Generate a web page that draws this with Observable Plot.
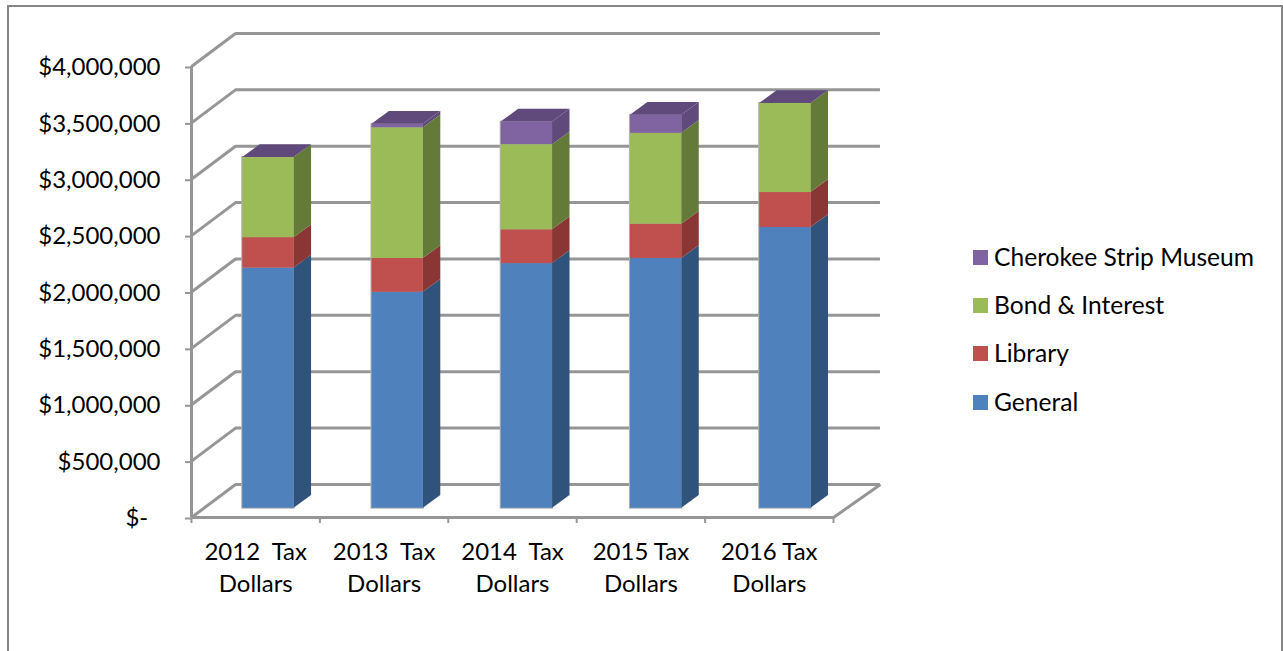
<!DOCTYPE html>
<html><head><meta charset="utf-8">
<script src="https://cdn.jsdelivr.net/npm/d3@7"></script>
<script src="https://cdn.jsdelivr.net/npm/@observablehq/plot@0.6"></script>
<style>
html,body{margin:0;padding:0;background:#fff;overflow:hidden;width:1283px;height:651px}
#frame{position:absolute;left:7px;top:5px;width:1276px;height:660px;border:2px solid #868686;box-sizing:border-box}
#chart{position:absolute;left:0;top:0}
#legend{position:absolute;left:973px;top:0;font:24.6px Lato,sans-serif;color:#000}
.row{position:absolute;left:0;white-space:nowrap;height:20px;line-height:20px}
.sw{position:absolute;left:0;top:3px;width:15px;height:15px}
.lb{position:absolute;left:21px;top:0}
</style></head><body>
<div id="frame"></div><div id="chart"></div><div id="legend"></div>
<script>
const categories = ["2012  Tax\nDollars","2013  Tax\nDollars","2014  Tax\nDollars","2015 Tax\nDollars","2016 Tax\nDollars"];
const seriesNames = ["General","Library","Bond & Interest","Cherokee Strip Museum"];
const general = [2130000,1915000,2170000,2215000,2490000];
const library = [270000,300000,300000,305000,310000];
const bond    = [710000,1160000,755000,805000,790000];
const museum  = [0,30000,200000,160000,0];
const yTicks  = [0,500000,1000000,1500000,2000000,2500000,3000000,3500000,4000000];
const xTicks  = [0,1,2,3,4,5];
const frontColors = ["#4F81BD","#C0504D","#9BBB59","#8064A2"];
const sideColors  = ["#30537C","#8A3634","#637A38","#5F4A7B"];
const topColor = "#604A7B";

// oblique depth of the box, in data units (categories across; dollars up)
const wallX = 0.3427, wallY = 293000, wallEnd = 5 + wallX + 0.023;
const barPitch = 1.0065, barLeft = 0.399, barW = 0.4, baseY = 82000;
const faceX = 0.136, faceY = 113000;

const all = [general,library,bond,museum];
const fronts=[],sides=[],tops=[],halos=[];
categories.forEach((c,i)=>{
  let v0=baseY;
  const x1=i*barPitch+barLeft, x2=x1+barW;
  all.forEach((s,k)=>{
    const v1=v0+s[i];
    if(s[i]>0){
      fronts.push({x1,x2,y1:v0,y2:v1,fill:frontColors[k]});
      sides.push({key:i+"-"+k,x:x2,y1:v0,y2:v1,fill:sideColors[k]});
      sides.push({key:i+"-"+k,x:x2+faceX,y1:v0+faceY,y2:v1+faceY,fill:sideColors[k]});
    }
    v0=v1;
  });
  halos.push({x1,x2,y1:baseY,y2:v0});
  tops.push({key:i,x1,x2,y:v0,fill:topColor});
  tops.push({key:i,x1:x1+faceX,x2:x2+faceX,y:v0+faceY,fill:topColor});
});
const wallC="#969696", sw=3;
const chart = Plot.plot({
  width:1283,height:651,
  marginLeft:191,marginRight:450,marginTop:66,marginBottom:134,
  style:{background:"transparent",overflow:"visible"},
  x:{domain:[0,5],axis:null},
  y:{domain:[0,4000000],axis:null},
  color:{type:"identity"},
  marks:[
    Plot.link([0],{x1:5,x2:wallEnd,y1:0,y2:wallY,stroke:wallC,strokeWidth:sw}),
    Plot.ruleY(yTicks,{x1:wallX,x2:wallEnd,y:d=>d+wallY,stroke:wallC,strokeWidth:sw}),
    Plot.link(yTicks,{x1:0,x2:wallX,y1:d=>d,y2:d=>d+wallY,stroke:wallC,strokeWidth:sw}),
    Plot.ruleX([0],{y1:0,y2:4000000,stroke:wallC,strokeWidth:sw}),
    Plot.ruleY([0],{x1:0,x2:5,stroke:wallC,strokeWidth:sw}),
    Plot.axisY({ticks:yTicks,anchor:"left",tickSize:6,tickPadding:25,stroke:wallC,strokeWidth:2,fill:"#000",fontSize:24,fontFamily:"Lato",dy:1,
      tickFormat:d=>d===0?"$-  ":"$"+d3.format(",")(d)}),
    Plot.axisX({ticks:xTicks,anchor:"bottom",tickSize:6,tickFormat:()=>"",stroke:wallC,strokeWidth:2}),
    Plot.axisX({ticks:categories.map((c,i)=>i+0.5),anchor:"bottom",tickSize:0,tickPadding:20,fill:"#000",fontSize:24,fontFamily:"Lato",lineHeight:1.33,textAnchor:"middle",
      tickFormat:d=>categories[Math.floor(d)]}),
    Plot.rect(halos,{x1:"x1",x2:"x2",y1:"y1",y2:"y2",fill:"#b4b4b4",inset:-1}),
    Plot.area(sides,{x1:"x",x2:"x",y1:"y1",y2:"y2",z:"key",fill:"fill"}),
    Plot.area(tops,{x1:"x1",x2:"x2",y1:"y",y2:"y",z:"key",fill:"fill"}),
    Plot.rect(fronts,{x1:"x1",x2:"x2",y1:"y1",y2:"y2",fill:"fill",inset:0})
  ]
});
document.getElementById("chart").appendChild(chart);
const lg=document.getElementById("legend");
[[3,247],[2,295],[1,343],[0,392]].forEach(([k,top])=>{
  const r=document.createElement("div");r.className="row";r.style.top=top+"px";
  const s=document.createElement("div");s.className="sw";s.style.background=frontColors[k];
  const t=document.createElement("div");t.className="lb";t.textContent=seriesNames[k];
  r.append(s,t);lg.append(r);
});
</script></body></html>
